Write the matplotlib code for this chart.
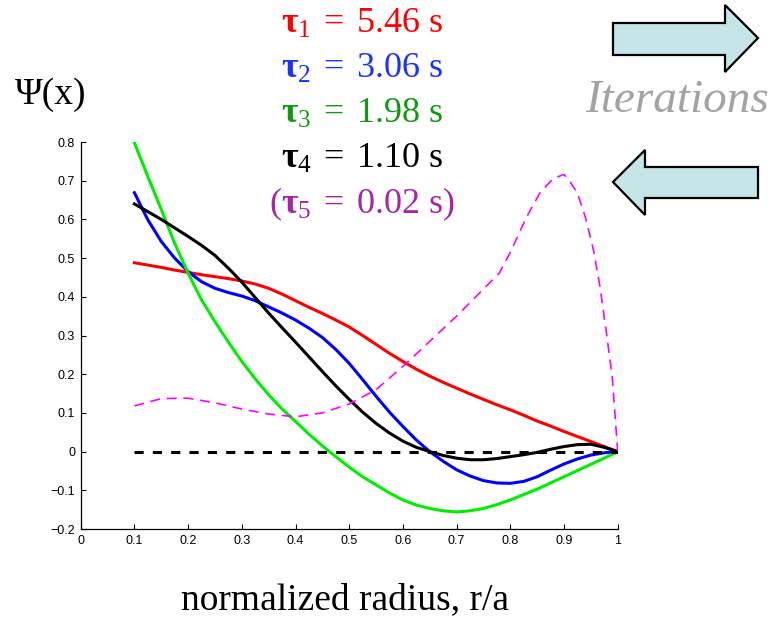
import matplotlib
matplotlib.use("Agg")
import matplotlib.pyplot as plt
from matplotlib.patches import Polygon

plt.rcParams['font.family'] = ['Liberation Serif', 'DejaVu Serif']
plt.rcParams['mathtext.fontset'] = 'custom'
plt.rcParams['mathtext.rm'] = 'Liberation Serif'
plt.rcParams['mathtext.it'] = 'Liberation Serif:italic'
plt.rcParams['mathtext.bf'] = 'Liberation Serif:bold'

# data (r/a grid of the four solid modes)
x = [0.1, 0.125, 0.15, 0.175, 0.2, 0.225, 0.25, 0.275, 0.3, 0.325,
     0.35, 0.375, 0.4, 0.425, 0.45, 0.475, 0.5, 0.525, 0.55, 0.575,
     0.6, 0.625, 0.65, 0.675, 0.7, 0.725, 0.75, 0.775, 0.8, 0.825,
     0.85, 0.875, 0.9, 0.925, 0.95, 0.975, 1.0]
psi1 = [0.488, 0.482, 0.476, 0.469, 0.463, 0.457, 0.452, 0.447, 0.441, 0.433,
        0.422, 0.407, 0.390, 0.373, 0.357, 0.340, 0.322, 0.300, 0.277, 0.254,
        0.233, 0.213, 0.195, 0.179, 0.164, 0.149, 0.135, 0.121, 0.108, 0.094,
        0.079, 0.066, 0.052, 0.039, 0.026, 0.013, 0.0]
psi2 = [0.669, 0.599, 0.543, 0.500, 0.465, 0.439, 0.422, 0.411, 0.402, 0.390,
        0.374, 0.358, 0.340, 0.319, 0.295, 0.264, 0.228, 0.186, 0.143, 0.102,
        0.065, 0.030, 0.0, -0.025, -0.047, -0.063, -0.075, -0.081, -0.082, -0.077,
        -0.065, -0.048, -0.032, -0.019, -0.009, -0.003, 0.0]
psi3 = [0.798, 0.711, 0.626, 0.538, 0.461, 0.392, 0.336, 0.283, 0.233, 0.188,
        0.147, 0.110, 0.078, 0.045, 0.015, -0.013, -0.040, -0.065, -0.086, -0.107,
        -0.125, -0.138, -0.147, -0.153, -0.156, -0.153, -0.147, -0.137, -0.125, -0.111,
        -0.097, -0.081, -0.065, -0.049, -0.033, -0.017, 0.0]
psi4 = [0.640, 0.620, 0.600, 0.578, 0.556, 0.533, 0.507, 0.474, 0.438, 0.398,
        0.358, 0.320, 0.283, 0.245, 0.207, 0.170, 0.135, 0.102, 0.073, 0.048,
        0.027, 0.011, 0.0, -0.010, -0.017, -0.021, -0.021, -0.018, -0.013, -0.008,
        -0.002, 0.006, 0.013, 0.018, 0.019, 0.011, 0.0]
x5 = [0.1, 0.15, 0.2, 0.25, 0.3, 0.35, 0.4, 0.45, 0.5, 0.55, 0.6, 0.65, 0.7,
      0.75, 0.78, 0.8, 0.83, 0.855, 0.88, 0.9, 0.91, 0.925, 0.94, 0.955, 0.967,
      0.98, 0.99, 1.0]
psi5 = [0.118, 0.137, 0.138, 0.126, 0.110, 0.097, 0.090, 0.100, 0.123, 0.160,
        0.220, 0.285, 0.350, 0.420, 0.462, 0.515, 0.605, 0.668, 0.706, 0.716,
        0.700, 0.668, 0.605, 0.520, 0.426, 0.297, 0.190, 0.0]
x_zero = [0.1, 1.0]
zero = [0.0, 0.0]

labels = [r'$\mathbf{\tau}_1\;{=}\;5.46\ \mathrm{s}$',
          r'$\mathbf{\tau}_2\;{=}\;3.06\ \mathrm{s}$',
          r'$\mathbf{\tau}_3\;{=}\;1.98\ \mathrm{s}$',
          r'$\mathbf{\tau}_4\;{=}\;1.10\ \mathrm{s}$',
          r'$(\mathbf{\tau}_5\;{=}\;0.02\ \mathrm{s})$']
label_colors = ['#ff0000', '#1a33ff', '#119911', '#000000', '#a626a6']

xticks = [0, 0.1, 0.2, 0.3, 0.4, 0.5, 0.6, 0.7, 0.8, 0.9, 1.0]
xticklabels = ['0', '0.1', '0.2', '0.3', '0.4', '0.5', '0.6', '0.7', '0.8', '0.9', '1']
yticks = [-0.2, -0.1, 0, 0.1, 0.2, 0.3, 0.4, 0.5, 0.6, 0.7, 0.8]
yticklabels = ['\u22120.2', '\u22120.1', '0', '0.1', '0.2', '0.3', '0.4', '0.5', '0.6', '0.7', '0.8']

W, H = 773, 619
fig = plt.figure(figsize=(W / 100, H / 100), dpi=100)
ax = fig.add_axes([80.7 / W, 1 - 529 / H, 537 / W, 387 / H])

ax.plot(x, psi1, color='#ff0000', lw=2.2)
ax.plot(x, psi2, color='#0000ff', lw=2.2)
ax.plot(x, psi3, color='#00ee00', lw=2.2)
ax.plot(x, psi4, color='#000000', lw=2.2)
ax.plot(x5, psi5, color='#ff00ff', lw=1.2, dashes=(6, 4))
ax.plot(x_zero, zero, color='black', lw=2.2, dashes=(3, 3), dash_capstyle='butt')

ax.set_xlim(0, 1)
ax.set_ylim(-0.2, 0.8)
ax.set_xticks(xticks)
ax.set_xticklabels(xticklabels)
ax.set_yticks(yticks)
ax.set_yticklabels(yticklabels)
for lab in ax.get_xticklabels() + ax.get_yticklabels():
    lab.set_family('Liberation Sans')
    lab.set_fontsize(9)
ax.tick_params(direction='in', length=3.5, width=0.8, pad=4)
ax.spines['top'].set_visible(False)
ax.spines['right'].set_visible(False)
for s in ['left', 'bottom']:
    ax.spines[s].set_linewidth(0.9)

# overlay in pixel coordinates for the annotations
ov = fig.add_axes([0, 0, 1, 1], zorder=5)
ov.set_xlim(0, W)
ov.set_ylim(H, 0)
ov.axis('off')

baselines = [33, 78, 123, 168, 213]
for lab, c, yb in zip(labels, label_colors, baselines):
    ov.text(362, yb, lab, color=c, fontsize=26, ha='center', va='baseline')

ov.text(15, 104, '\u03a8(x)', fontsize=27, ha='left', va='baseline')
ov.text(585, 112, 'Iterations', fontsize=34, style='italic', color='#a3a3a3',
        ha='left', va='baseline')
ov.text(345, 609, 'normalized radius, r/a', fontsize=27, ha='center', va='baseline')

arrow_fc = '#c5e5e8'
right_arrow = [(613, 23), (725, 23), (725, 5), (758, 38), (725, 72), (725, 55), (613, 55)]
left_arrow = [(758, 167), (645, 167), (645, 150), (613, 182), (645, 215), (645, 198), (758, 198)]
for pts in (right_arrow, left_arrow):
    ov.add_patch(Polygon(pts, closed=True, facecolor=arrow_fc, edgecolor='black',
                         lw=1.6, joinstyle='miter'))

fig.savefig('out.png', dpi=100)
